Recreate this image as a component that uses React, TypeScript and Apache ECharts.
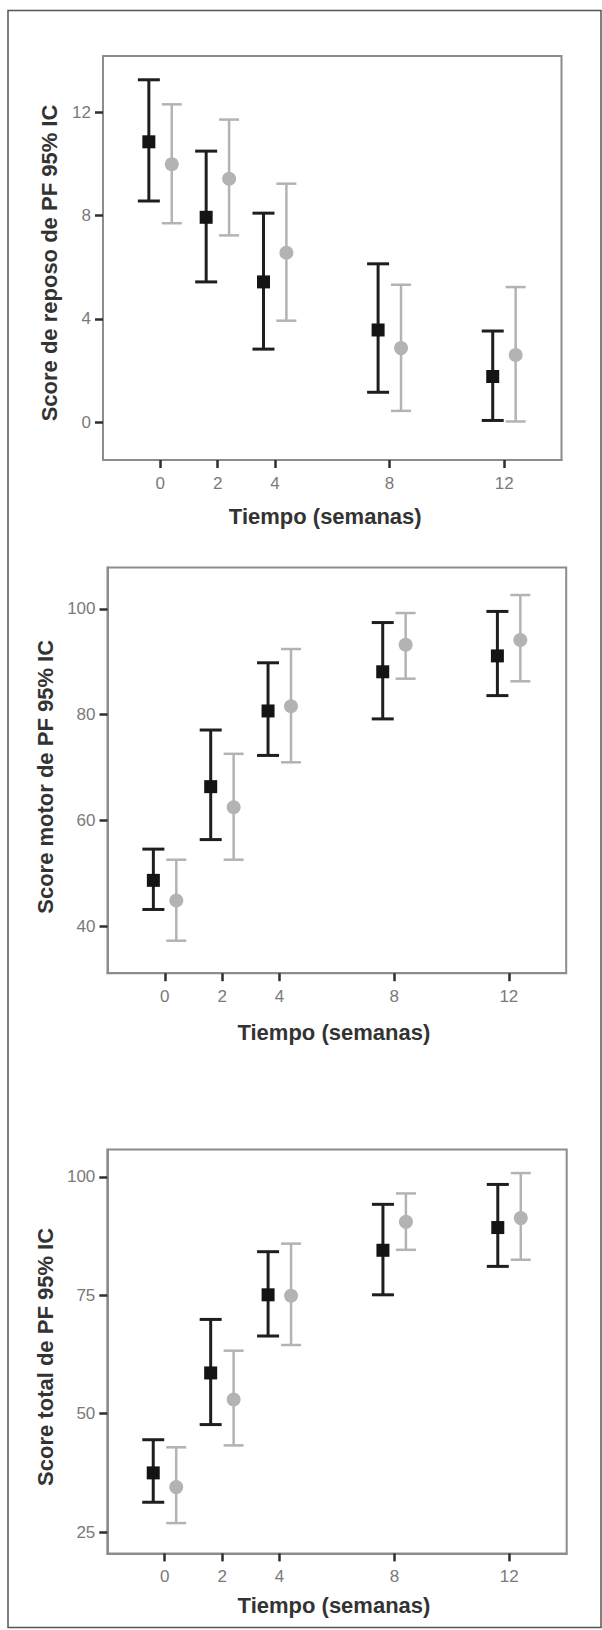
import React, { useEffect, useRef } from "react";
import * as echarts from "echarts";

// Weeks (x categories on a value axis)
const weeks = [0, 2, 4, 8, 12];
const xTicks = [0, 2, 4, 8, 12];

// Panel 1: Score de reposo de PF
const reposoBlackMean = [10.85, 7.93, 5.43, 3.57, 1.77];
const reposoBlackLow = [8.56, 5.43, 2.83, 1.16, 0.07];
const reposoBlackHigh = [13.25, 10.49, 8.09, 6.13, 3.53];
const reposoGrayMean = [9.98, 9.42, 6.56, 2.87, 2.6];
const reposoGrayLow = [7.7, 7.23, 3.93, 0.44, 0.03];
const reposoGrayHigh = [12.3, 11.71, 9.23, 5.32, 5.23];
const reposoTicks = [0, 4, 8, 12];

// Panel 2: Score motor de PF
const motorBlackMean = [48.7, 66.4, 80.7, 88.1, 91.1];
const motorBlackLow = [43.2, 56.4, 72.3, 79.2, 83.6];
const motorBlackHigh = [54.6, 77.1, 89.8, 97.4, 99.5];
const motorGrayMean = [44.9, 62.5, 81.6, 93.2, 94.1];
const motorGrayLow = [37.3, 52.6, 71.0, 86.8, 86.3];
const motorGrayHigh = [52.6, 72.6, 92.4, 99.2, 102.6];
const motorTicks = [40, 60, 80, 100];

// Panel 3: Score total de PF
const totalBlackMean = [37.5, 58.6, 75.1, 84.5, 89.3];
const totalBlackLow = [31.3, 47.7, 66.4, 75.1, 81.1];
const totalBlackHigh = [44.5, 69.9, 84.2, 94.2, 98.4];
const totalGrayMean = [34.5, 53.0, 74.9, 90.5, 91.3];
const totalGrayLow = [26.9, 43.3, 64.5, 84.6, 82.5];
const totalGrayHigh = [42.9, 63.3, 85.9, 96.5, 100.8];
const totalTicks = [25, 50, 75, 100];

const FONT = "'Liberation Sans', Arial, sans-serif";
const BOX = "#8c8c8c";
const TICK = "#2e2e2e";
const LABEL = "#7a7a7a";
const TITLE = "#333333";
const BLACK = "#1e1e1e";
const GRAY = "#b3b3b3";
const OFFSET = 0.4; // horizontal dodge in weeks

function rows(mean: number[], low: number[], high: number[]) {
  return weeks.map((w, i) => [w, mean[i], low[i], high[i]]);
}

function errSeries(idx: number, data: number[][], kind: "black" | "gray") {
  const isBlack = kind === "black";
  const color = isBlack ? BLACK : GRAY;
  const lw = isBlack ? 3 : 2.5;
  const capHalf = isBlack ? 11 : 10;
  const dx = isBlack ? -OFFSET : OFFSET;
  return {
    type: "custom",
    xAxisIndex: idx,
    yAxisIndex: idx,
    data,
    encode: { x: 0, y: [1, 2, 3] },
    z: isBlack ? 3 : 2,
    renderItem: (params: any, api: any) => {
      const t = api.value(0) + dx;
      const pm = api.coord([t, api.value(1)]);
      const pl = api.coord([t, api.value(2)]);
      const ph = api.coord([t, api.value(3)]);
      const ls = { stroke: color, lineWidth: lw };
      const children: any[] = [
        { type: "line", shape: { x1: pm[0], y1: pl[1], x2: pm[0], y2: ph[1] }, style: ls },
        { type: "line", shape: { x1: pm[0] - capHalf, y1: pl[1], x2: pm[0] + capHalf, y2: pl[1] }, style: ls },
        { type: "line", shape: { x1: pm[0] - capHalf, y1: ph[1], x2: pm[0] + capHalf, y2: ph[1] }, style: ls },
      ];
      if (isBlack) {
        children.push({
          type: "rect",
          shape: { x: pm[0] - 6.5, y: pm[1] - 6.5, width: 13, height: 13 },
          style: { fill: "#141414" },
        });
      } else {
        children.push({
          type: "circle",
          shape: { cx: pm[0], cy: pm[1], r: 7 },
          style: { fill: GRAY },
        });
      }
      return { type: "group", children };
    },
  };
}

const panels = [
  {
    grid: { left: 103, top: 56, width: 458.5, height: 404 },
    yMin: -1.46,
    yMax: 14.17,
    yTicks: reposoTicks,
    yName: "Score de reposo de PF 95% IC",
    yGap: 43,
    yPad: [0, 10, 0, 0],
    xGap: 45,
    xPad: [0, 14, 0, 0],
    black: rows(reposoBlackMean, reposoBlackLow, reposoBlackHigh),
    gray: rows(reposoGrayMean, reposoGrayLow, reposoGrayHigh),
  },
  {
    grid: { left: 107.5, top: 567.5, width: 458.7, height: 405.7 },
    yMin: 31.16,
    yMax: 107.8,
    yTicks: motorTicks,
    yName: "Score motor de PF 95% IC",
    yGap: 45,
    yPad: [0, 13, 0, 0],
    xGap: 48,
    xPad: [0, 6, 0, 0],
    black: rows(motorBlackMean, motorBlackLow, motorBlackHigh),
    gray: rows(motorGrayMean, motorGrayLow, motorGrayHigh),
  },
  {
    grid: { left: 107.3, top: 1149.4, width: 459.4, height: 404 },
    yMin: 20.5,
    yMax: 105.8,
    yTicks: totalTicks,
    yName: "Score total de PF 95% IC",
    yGap: 45,
    yPad: [0, 11, 0, 0],
    xGap: 41,
    xPad: [0, 6, 0, 0],
    black: rows(totalBlackMean, totalBlackLow, totalBlackHigh),
    gray: rows(totalGrayMean, totalGrayLow, totalGrayHigh),
  },
];

export default function App() {
  const ref = useRef<HTMLDivElement>(null);
  useEffect(() => {
    if (!ref.current) return;
    const chart = echarts.init(ref.current, undefined, { renderer: "svg" });
    const option: any = {
      animation: false,
      backgroundColor: "#ffffff",
      textStyle: { fontFamily: FONT },
      graphic: [
        {
          type: "rect",
          shape: { x: 8, y: 10.5, width: 593, height: 1617 },
          style: { fill: "none", stroke: "#555555", lineWidth: 1.5 },
          silent: true,
        },
      ],
      grid: panels.map((p) => ({
        ...p.grid,
        show: true,
        borderColor: BOX,
        borderWidth: 2,
        backgroundColor: "transparent",
        containLabel: false,
      })),
      xAxis: panels.map((p, i) => ({
        type: "value",
        gridIndex: i,
        min: -2,
        max: 14,
        position: "bottom",
        name: "Tiempo (semanas)",
        nameLocation: "middle",
        nameGap: p.xGap,
        nameTextStyle: {
          fontFamily: FONT,
          fontSize: 22,
          fontWeight: "bold",
          color: TITLE,
          padding: p.xPad,
        },
        axisLine: { show: true, onZero: false, lineStyle: { color: BOX, width: 2 } },
        axisTick: {
          show: true,
          inside: false,
          customValues: xTicks,
          length: 8,
          lineStyle: { color: TICK, width: 2.5 },
        },
        axisLabel: {
          show: true,
          customValues: xTicks,
          margin: 15,
          fontFamily: FONT,
          fontSize: 17,
          color: LABEL,
        },
        splitLine: { show: false },
      })),
      yAxis: panels.map((p, i) => ({
        type: "value",
        gridIndex: i,
        min: p.yMin,
        max: p.yMax,
        position: "left",
        name: p.yName,
        nameLocation: "middle",
        nameGap: p.yGap,
        nameRotate: 90,
        nameTextStyle: {
          fontFamily: FONT,
          fontSize: 22,
          fontWeight: "bold",
          color: TITLE,
          padding: p.yPad,
        },
        axisLine: { show: true, onZero: false, lineStyle: { color: BOX, width: 2 } },
        axisTick: {
          show: true,
          inside: false,
          customValues: p.yTicks,
          length: 8,
          lineStyle: { color: TICK, width: 2.5 },
        },
        axisLabel: {
          show: true,
          customValues: p.yTicks,
          margin: 12,
          fontFamily: FONT,
          fontSize: 17,
          color: LABEL,
        },
        splitLine: { show: false },
      })),
      series: panels.flatMap((p, i) => [
        errSeries(i, p.gray, "gray"),
        errSeries(i, p.black, "black"),
      ]),
    };
    chart.setOption(option);
    return () => chart.dispose();
  }, []);
  return (
    <div
      ref={ref}
      style={{ position: "absolute", left: 0, top: 0, width: 602, height: 1630 }}
    />
  );
}
